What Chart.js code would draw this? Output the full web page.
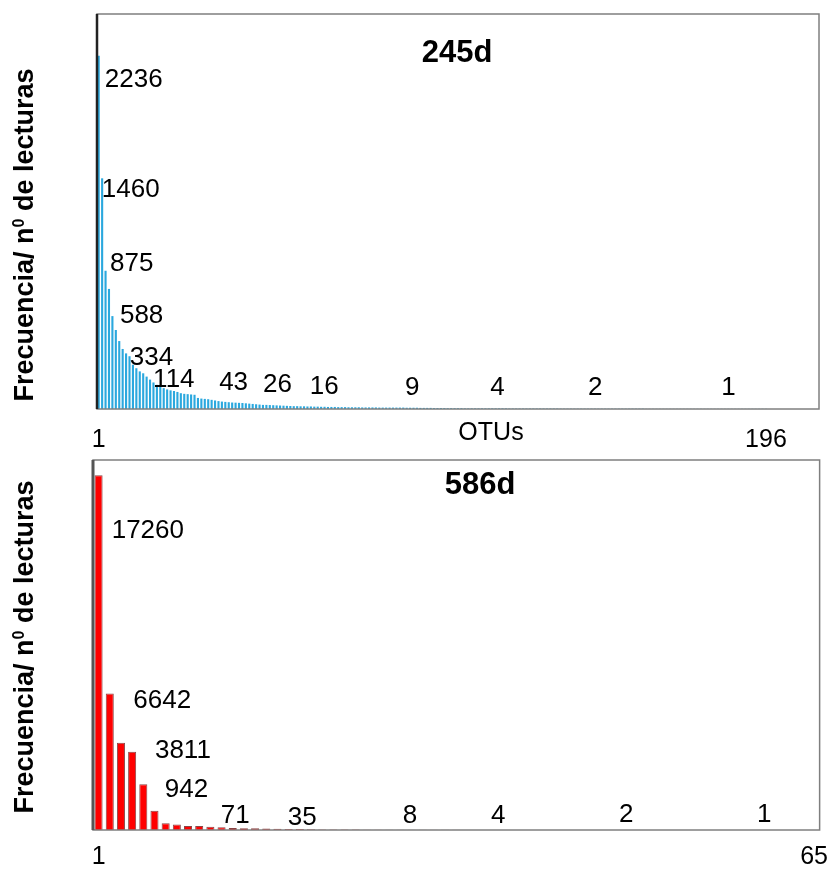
<!DOCTYPE html>
<html>
<head>
<meta charset="utf-8">
<script src="https://cdn.jsdelivr.net/npm/chart.js@4.4.1/dist/chart.umd.min.js"></script>
<style>
    body { margin: 0; background: #fff; }
    #wrap { position: relative; width: 840px; height: 872px; }
    canvas { position: absolute; left: 0; top: 0; }
</style>
</head>
<body>
<div id="wrap">
    <canvas id="chartTop" width="840" height="872"></canvas>
    <canvas id="chartBottom" width="840" height="872"></canvas>
</div>
<script>
// 245d: reads per OTU, ranked (196 OTUs)
const topValues = [
    2236, 1460, 875, 760, 588, 500, 430, 380, 352, 334,
    280, 258, 238, 226, 205, 186, 168, 153, 142, 132,
    124, 118, 114, 108, 100, 96, 94, 92, 90, 70,
    66, 64, 62, 58, 54, 50, 47, 45, 43, 41,
    40, 39, 38, 36, 34, 32, 30, 28, 26, 26,
    25, 24, 23, 22, 21, 20, 19, 18, 18, 17,
    17, 16, 16, 15, 15, 14, 14, 13, 13, 13,
    12, 12, 12, 11, 11, 11, 11, 10, 10, 10,
    10, 10, 9, 9, 9, 9, 9, 9, 9, 9,
    8, 8, 8, 8, 7, 7, 7, 7, 6, 6,
    6, 6, 5, 5, 5, 5, 5, 4, 4, 4,
    4, 4, 4, 4, 4, 4, 4, 4, 4, 4,
    3, 3, 3, 3, 3, 3, 3, 3, 3, 3,
    3, 3, 3, 3, 3, 2, 2, 2, 2, 2,
    2, 2, 2, 2, 2, 2, 2, 2, 2, 2,
    2, 2, 2, 2, 2, 2, 2, 2, 2, 2,
    1, 1, 1, 1, 1, 1, 1, 1, 1, 1,
    1, 1, 1, 1, 1, 1, 1, 1, 1, 1,
    1, 1, 1, 1, 1, 1, 1, 1, 1, 1,
    1, 1, 1, 1, 1, 1
];
// 586d: reads per OTU, ranked (65 OTUs)
const bottomValues = [
    17260, 6642, 4250, 3811, 2223, 942, 326, 270, 195, 190,
    160, 130, 100, 90, 80, 71, 60, 50, 45, 35,
    30, 25, 22, 20, 18, 15, 12, 10, 9, 8,
    8, 7, 7, 6, 6, 5, 5, 5, 4, 4,
    4, 4, 4, 3, 3, 3, 3, 3, 3, 2,
    2, 2, 2, 2, 2, 2, 2, 2, 1, 1,
    1, 1, 1, 1, 1
];

// categories (the top axis has some empty room after OTU 196)
const topCats = topValues.map((v, i) => String(i + 1)).concat(new Array(15).fill(''));
const bottomCats = bottomValues.map((v, i) => String(i + 1));
const topTicks = ['1', '196'];
const bottomTicks = ['1', '65'];
const topMax = 2500;
const bottomMax = 18000;

// value labels written on the plot: text, category index, y value
const topNotes = ['2236', '1460', '875', '588', '334', '114', '43', '26', '16', '9', '4', '2', '1'];
const topNotesX = [1.8, 0.9, 3.3, 6.2, 9.1, 15.9, 35.2, 48, 61.7, 89.5, 114.4, 143, 181.9];
const topNotesY = [2038, 1344, 873, 544, 278, 139, 120, 108, 95, 89, 89, 89, 89];
const bottomNotes = ['17260', '6642', '3811', '942', '71', '35', '8', '4', '2', '1'];
const bottomNotesX = [1.17, 3.11, 5.04, 5.92, 10.93, 16.92, 27.2, 35.1, 46.56, 58.9];
const bottomNotesY = [14205, 5935, 3503, 1620, 340, 243, 340, 340, 389, 389];

const FONT = '"Liberation Sans", Arial, sans-serif';

function drawYTitle(ctx, x, cy) {
    const p1 = 'Frecuencia/ n', p2 = '0', p3 = ' de lecturas';
    ctx.save();
    ctx.translate(x, cy);
    ctx.rotate(-Math.PI / 2);
    ctx.fillStyle = '#000';
    ctx.textBaseline = 'alphabetic';
    ctx.textAlign = 'left';
    ctx.font = 'bold 27px ' + FONT;
    const w1 = ctx.measureText(p1).width;
    const w3 = ctx.measureText(p3).width;
    ctx.font = 'bold 16px ' + FONT;
    const w2 = ctx.measureText(p2).width;
    let px = -(w1 + w2 + w3) / 2;
    ctx.font = 'bold 27px ' + FONT;
    ctx.fillText(p1, px, 0);
    px += w1;
    ctx.font = 'bold 16px ' + FONT;
    ctx.fillText(p2, px, -9);
    px += w2;
    ctx.font = 'bold 27px ' + FONT;
    ctx.fillText(p3, px, 0);
    ctx.restore();
}

const decorPlugin = {
    id: 'decor',
    afterDatasetsDraw(chart, args, opts) {
        const a = chart.chartArea;
        const ctx = chart.ctx;
        ctx.save();
        ctx.strokeStyle = '#7f7f7f';
        ctx.lineWidth = 1.5;
        ctx.strokeRect(a.left, a.top, a.right - a.left, a.bottom - a.top);
        ctx.strokeStyle = opts.axisColor;
        ctx.lineWidth = opts.axisWidth;
        ctx.beginPath();
        ctx.moveTo(a.left, a.top);
        ctx.lineTo(a.left, a.bottom);
        ctx.stroke();
        ctx.restore();
    },
    afterDraw(chart, args, opts) {
        const ctx = chart.ctx;
        const xs = chart.scales.x;
        const ys = chart.scales.y;
        ctx.save();
        ctx.fillStyle = '#000';
        ctx.textAlign = 'left';
        ctx.textBaseline = 'alphabetic';
        ctx.font = '26px ' + FONT;
        opts.notes.forEach(function(t, i) {
            ctx.fillText(t, xs.getPixelForValue(opts.notesX[i]), ys.getPixelForValue(opts.notesY[i]));
        });
        ctx.textAlign = 'center';
        ctx.font = 'bold 31px ' + FONT;
        ctx.fillText(opts.title, opts.titleX, opts.titleY);
        if (opts.xTitle) {
            ctx.font = '25px ' + FONT;
            ctx.fillText(opts.xTitle, opts.xTitleX, opts.xTitleY);
        }
        ctx.restore();
        drawYTitle(ctx, opts.yTitleX, opts.yTitleY);
    }
};

function makeChart(id, cats, values, ticks, yMax, pad, bar, decor) {
    return new Chart(document.getElementById(id), {
        type: 'bar',
        data: {
            labels: cats,
            datasets: [{
                data: values,
                backgroundColor: bar.color,
                borderColor: bar.border,
                borderWidth: bar.borderWidth,
                barPercentage: bar.pct,
                categoryPercentage: 1.0
            }]
        },
        options: {
            responsive: false,
            animation: false,
            events: [],
            layout: { padding: pad },
            plugins: {
                legend: { display: false },
                tooltip: { enabled: false },
                decor: decor
            },
            scales: {
                x: {
                    grid: { display: false, drawTicks: false },
                    border: { display: false },
                    ticks: {
                        autoSkip: false,
                        maxRotation: 0,
                        minRotation: 0,
                        padding: bar.tickPad,
                        color: '#000',
                        font: { family: FONT, size: 25 },
                        callback: function(value) {
                            const l = this.getLabelForValue(value);
                            return ticks.includes(l) ? l : '';
                        }
                    },
                    afterFit: function(scale) { scale.height = 40; }
                },
                y: {
                    display: false,
                    min: 0,
                    max: yMax
                }
            }
        },
        plugins: [decorPlugin]
    });
}

makeChart('chartTop', topCats, topValues, topTicks, topMax,
    { left: 97, top: 14, right: 21, bottom: 423 },
    { color: '#2ba8de', border: '#2ba8de', borderWidth: 0, pct: 0.62, tickPad: 16 },
    {
        notes: topNotes, notesX: topNotesX, notesY: topNotesY,
        title: '245d', titleX: 457, titleY: 62,
        xTitle: 'OTUs', xTitleX: 491, xTitleY: 440,
        yTitleX: 33, yTitleY: 235,
        axisColor: '#222', axisWidth: 2.5
    });

makeChart('chartBottom', bottomCats, bottomValues, bottomTicks, bottomMax,
    { left: 93, top: 460, right: 8, bottom: 2 },
    { color: '#ff0000', border: '#8a4646', borderWidth: 1, pct: 0.72, tickPad: 12 },
    {
        notes: bottomNotes, notesX: bottomNotesX, notesY: bottomNotesY,
        title: '586d', titleX: 480, titleY: 494,
        xTitle: '', xTitleX: 0, xTitleY: 0,
        yTitleX: 33, yTitleY: 647,
        axisColor: '#555', axisWidth: 3
    });
</script>
</body>
</html>
